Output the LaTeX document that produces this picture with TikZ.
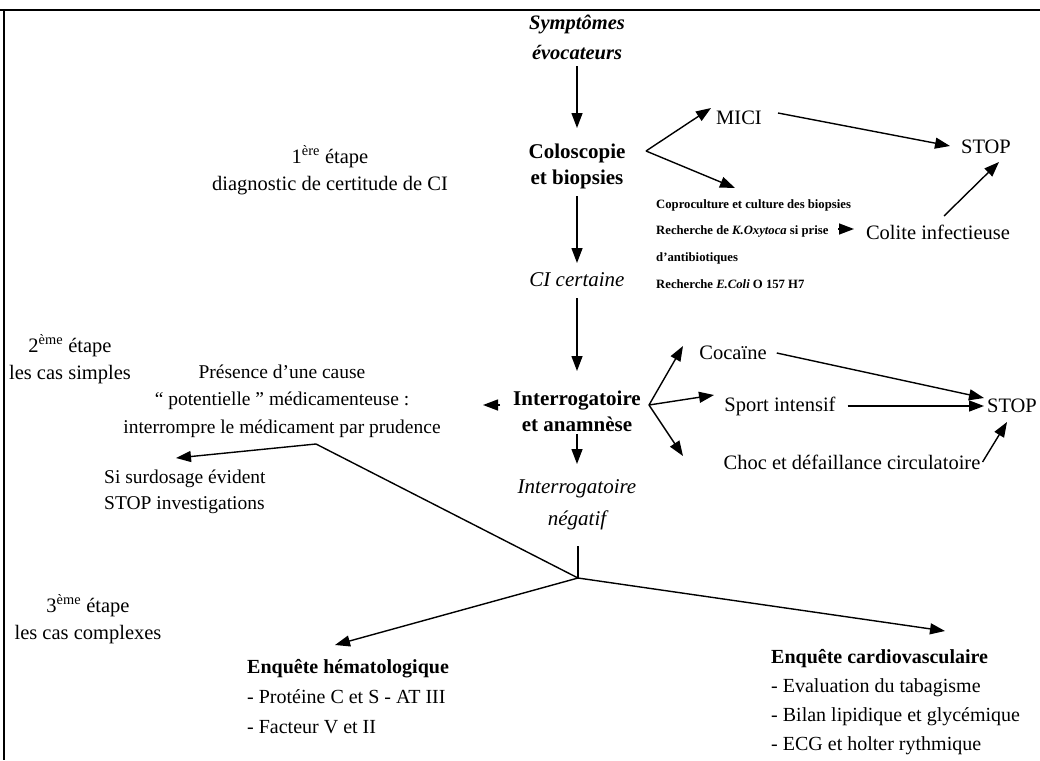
\documentclass[tikz,border=0pt]{standalone}
\usepackage{fontspec}
\setmainfont{Liberation Serif}
\usetikzlibrary{arrows.meta}
\begin{document}
\begin{tikzpicture}[x=1pt,y=-1pt,
  txt/.style={inner sep=0pt, align=center, font=\fontsize{20.5}{27}\selectfont},
  btxt/.style={txt, font=\fontsize{21}{26}\selectfont\bfseries},
  itxt/.style={txt, font=\fontsize{21}{32}\selectfont\itshape},
  bitxt/.style={txt, font=\fontsize{20.5}{30}\selectfont\bfseries\itshape},
  prestxt/.style={txt, font=\fontsize{19.5}{27.5}\selectfont},
  smalltxt/.style={inner sep=0pt, anchor=west, font=\fontsize{12.7}{15}\selectfont\bfseries},
  listtxt/.style={inner sep=0pt, align=left, anchor=west, font=\fontsize{20}{30}\selectfont},
  arr/.style={line width=1.4pt, -{Triangle[length=15pt,width=11pt]}},
  ln/.style={line width=1.4pt},
  frame/.style={line width=1.6pt}]
\useasboundingbox (0,0) rectangle (1040,760);
\fill[white] (0,0) rectangle (1040,760);
\draw[frame] (0,10) -- (1040,10);
\draw[frame] (4,10) -- (4,760);

% nodes
\node[bitxt] (sym) at (577,37) {Symptômes\\évocateurs};
\node[btxt] (colo) at (577,166) {Coloscopie\\et biopsies};
\node[txt] (mici) at (739,118) {MICI};
\node[txt] (stop1) at (986,147) {STOP};
\node[txt] (etape1) at (330,170) {1\textsuperscript{ère} étape\\diagnostic de certitude de CI};
\node[smalltxt] (cop1) at (656,205) {Coproculture et culture des biopsies};
\node[smalltxt] (cop2) at (656,231) {Recherche de \textit{K.Oxytoca} si prise};
\node[smalltxt] (cop3) at (656,258) {d’antibiotiques};
\node[smalltxt] (cop4) at (656,284) {Recherche \textit{E.Coli} O 157 H7};
\node[txt] (colite) at (938,232) {Colite infectieuse};
\node[itxt] (cic) at (577,280) {CI certaine};
\node[txt] (etape2) at (70,359) {2\textsuperscript{ème} étape\\les cas simples};
\node[prestxt] (pres) at (282,401) {Présence d’une cause\\“ potentielle ” médicamenteuse :\\interrompre le médicament par prudence};
\node[btxt] (interr) at (577,411) {Interrogatoire\\et anamnèse};
\node[txt] (coca) at (733,353) {Cocaïne};
\node[txt] (sport) at (780,406) {Sport intensif};
\node[txt] (choc) at (852,462) {Choc et défaillance circulatoire};
\node[txt] (stop2) at (1012,406) {STOP};
\node[itxt] (neg) at (577,505) {Interrogatoire\\négatif};
\node[listtxt, font=\fontsize{19.5}{26}\selectfont] (surdo) at (104,492) {Si surdosage évident\\STOP investigations};
\node[txt] (etape3) at (88,619) {3\textsuperscript{ème} étape\\les cas complexes};
\node[listtxt] (hema) at (247,697) {\textbf{Enquête hématologique}\\- Protéine C et S - AT III\\- Facteur V et II};
\node[listtxt, font=\fontsize{20}{29}\selectfont] (cardio) at (771,702) {\textbf{Enquête cardiovasculaire}\\- Evaluation du tabagisme\\- Bilan lipidique et glycémique\\- ECG et holter rythmique};

% coordinates
\coordinate (f1) at (646,151);
\coordinate (f2) at (649,405);
\coordinate (f3) at (578,578);
\coordinate (fp) at (316,444);

% connectors
\draw[arr] (577,66) -- (577,128);
\draw[arr] (f1) -- (711,108);
\draw[arr] (f1) -- (735,188);
\draw[arr] (778,113) -- (950,146);
\draw[arr] (944,216) -- (999,162);
\draw[arr] (838,229) -- (854,229);
\draw[arr] (577,196) -- (577,263);
\draw[arr] (577,298) -- (577,371);
\draw[arr] (500,405) -- (483,405);
\draw[arr] (f2) -- (683,346);
\draw[arr] (f2) -- (714,395);
\draw[arr] (f2) -- (683,456);
\draw[arr] ([xshift=10pt]coca.east) -- (984,398);
\draw[arr] ([xshift=12pt]sport.east) -- (984,406);
\draw[arr] ([xshift=2pt]choc.east) -- (1007,422);
\draw[arr] (577,434) -- (577,464);
\draw[ln] (578,546) -- (f3);
\draw[arr] (fp) -- (176,458);
\draw[ln] (fp) -- (f3);
\draw[arr] (f3) -- (335,645);
\draw[arr] (f3) -- (945,631);
\end{tikzpicture}
\end{document}
